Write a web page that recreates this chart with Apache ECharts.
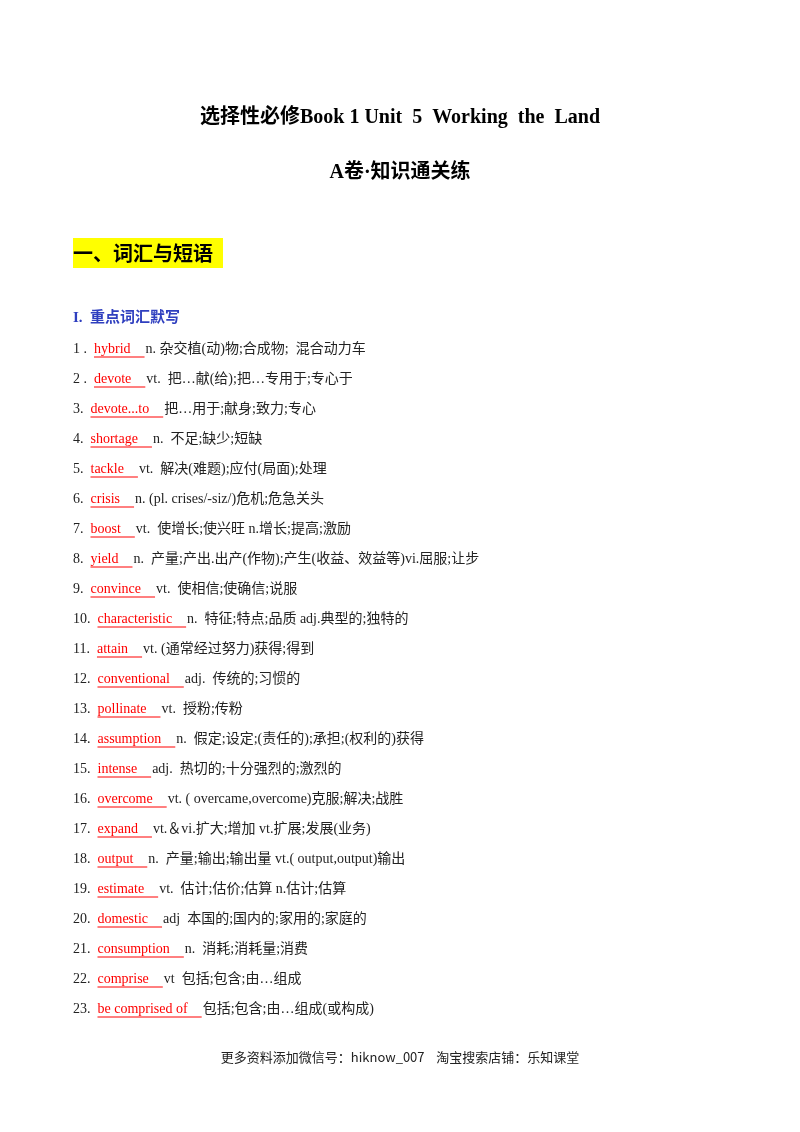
<!DOCTYPE html>
<html><head><meta charset="utf-8">
<script src="https://cdn.jsdelivr.net/npm/echarts@6/dist/echarts.min.js"></script>
<style>html,body{margin:0;background:#fff}#c{width:800px;height:1132px}</style>
</head><body><div id="c"></div>
<script>
// ── Page text ───────────────────────────────────────────────
const title = '选择性必修Book 1 Unit  5  Working  the  Land';
const subtitle = 'A卷·知识通关练';
const sectionTitle = '一、词汇与短语';
const partTitle = 'I.  重点词汇默写';
const footer = '更多资料添加微信号：hiknow_007    淘宝搜索店铺：乐知课堂';

const numbers = ['1 .', '2 .', '3.', '4.', '5.', '6.', '7.', '8.', '9.', '10.', '11.', '12.',
  '13.', '14.', '15.', '16.', '17.', '18.', '19.', '20.', '21.', '22.', '23.'];
const words = ['hybrid', 'devote', 'devote...to', 'shortage', 'tackle', 'crisis', 'boost', 'yield',
  'convince', 'characteristic', 'attain', 'conventional', 'pollinate', 'assumption', 'intense',
  'overcome', 'expand', 'output', 'estimate', 'domestic', 'consumption', 'comprise', 'be comprised of'];
const meanings = ['n. 杂交植(动)物;合成物;  混合动力车', 'vt.  把…献(给);把…专用于;专心于',
  '把…用于;献身;致力;专心', 'n.  不足;缺少;短缺', 'vt.  解决(难题);应付(局面);处理',
  'n. (pl. crises/-siz/)危机;危急关头', 'vt.  使增长;使兴旺 n.增长;提高;激励',
  'n.  产量;产出.出产(作物);产生(收益、效益等)vi.屈服;让步', 'vt.  使相信;使确信;说服',
  'n.  特征;特点;品质 adj.典型的;独特的', 'vt. (通常经过努力)获得;得到', 'adj.  传统的;习惯的',
  'vt.  授粉;传粉', 'n.  假定;设定;(责任的);承担;(权利的)获得', 'adj.  热切的;十分强烈的;激烈的',
  'vt. ( overcame,overcome)克服;解决;战胜', 'vt.＆vi.扩大;增加 vt.扩展;发展(业务)',
  'n.  产量;输出;输出量 vt.( output,output)输出', 'vt.  估计;估价;估算 n.估计;估算',
  'adj  本国的;国内的;家用的;家庭的', 'n.  消耗;消耗量;消费', 'vt  包括;包含;由…组成',
  '包括;包含;由…组成(或构成)'];

// ── Layout ─────────────────────────────────────────────────
const FONT = '"Liberation Serif", "Noto Sans CJK SC", serif';
const SIZE = 14;
const ROW0 = 349, ROWH = 30, LEFT = 73, PAD = 14;
const ctx = document.createElement('canvas').getContext('2d');
ctx.font = SIZE + 'px ' + FONT;
const w = s => ctx.measureText(s).width;

const elements = [];
const txt = (x, y, text, style) => elements.push({
  type: 'text', x, y,
  style: Object.assign({ text, fontFamily: FONT, fontSize: SIZE, fill: '#222', textVerticalAlign: 'middle' }, style)
});

txt(400, 118, title, { fontSize: 20, fontWeight: 'bold', fill: '#000', textAlign: 'center' });
txt(400, 173, subtitle, { fontSize: 20, fontWeight: 'bold', fill: '#000', textAlign: 'center' });
elements.push({ type: 'rect', shape: { x: 73, y: 238, width: 150, height: 30 }, style: { fill: '#ffff00' } });
txt(73, 253, sectionTitle, { fontSize: 20, fontWeight: 'bold', fill: '#000', fontFamily: '"Noto Sans CJK SC", sans-serif' });
txt(73, 318, partTitle, { fontSize: 15, fontWeight: 'bold', fill: '#2f3fbf' });

numbers.forEach((n, i) => {
  const y = ROW0 + i * ROWH;
  txt(LEFT, y, n);
  const x0 = LEFT + w(n) + 7;
  txt(x0, y, words[i], { fill: '#ff0000' });
  const x1 = x0 + w(words[i]) + PAD;
  elements.push({ type: 'line', shape: { x1: x0, y1: y + 8, x2: x1, y2: y + 8 }, style: { stroke: '#ff0000', lineWidth: 1 } });
  txt(x1 + 1, y, meanings[i]);
});

txt(400, 1057, footer, { fontSize: 13, textAlign: 'center', fontFamily: '"Noto Sans CJK SC", sans-serif' });

const chart = echarts.init(document.getElementById('c'));
chart.setOption({ backgroundColor: '#fff', animation: false, graphic: { elements } });
</script></body></html>
